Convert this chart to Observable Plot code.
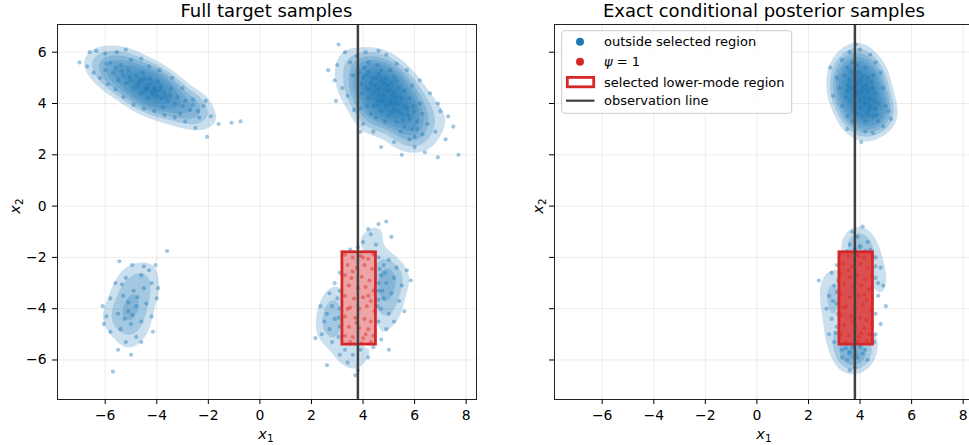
<!DOCTYPE html>
<html><head><meta charset="utf-8">
<script src="https://cdn.jsdelivr.net/npm/d3@7"></script>
<script src="https://cdn.jsdelivr.net/npm/@observablehq/plot@0.6"></script>
<style>
body{margin:0;background:#fff;}
#wrap{position:relative;width:969px;height:445px;overflow:hidden;font-family:"DejaVu Sans",sans-serif;color:#000;background:#fff;}
.panel{position:absolute;top:0;}
#overlay{position:absolute;left:0;top:0;pointer-events:none;}
</style></head><body><div id="wrap"></div><script>
// ---------- data ----------
const xTicks = [-6, -4, -2, 0, 2, 4, 6, 8];
const yTicks = [-6, -4, -2, 0, 2, 4, 6];
const xDomain = [-7.85, 8.4];
const yDomain = [-7.54, 7.08];
const observationX = [3.8];
const regionX = [3.2, 4.5];
const regionY = [-5.4, -1.8];
const titles = ["Full target samples", "Exact conditional posterior samples"];
const legendLabels = ["outside selected region", "ψ = 1", "selected lower-mode region", "observation line"];

// full target: upper-left mode
const fullModeA = [[-7.0,5.6],[-6.6,6.0],[-6.35,6.05],[-6.0,5.95],[-5.2,6.1],[-5.55,6.0],[-6.7,5.45],[-6.45,5.2],[-6.2,5.0],[-5.9,4.75],[-5.6,4.55],[-5.3,4.25],[-4.9,3.95],[-4.5,3.8],[-4.1,3.7],[-3.7,3.55],[-3.3,3.45],[-2.9,3.3],[-2.5,3.05],[-2.05,2.7],[-1.6,3.2],[-1.1,3.25],[-0.75,3.3],[-1.9,3.5],[-2.2,3.9],[-2.6,4.15],[-3.0,4.6],[-3.4,5.0],[-3.9,5.3],[-4.6,5.75],[-5.0,5.7],[-4.3,5.45],[-2.1,4.1],[-2.4,3.7],
[-5.8,5.6],[-5.6,5.4],[-5.4,5.5],[-5.7,5.2],[-5.3,5.1],[-5.1,5.3],[-5.0,4.9],[-4.8,5.1],[-4.7,4.8],[-4.5,4.95],[-4.4,4.6],[-4.3,4.75],[-4.2,4.45],[-4.1,4.6],[-4.0,4.3],[-3.9,4.5],[-3.8,4.2],[-3.7,4.4],[-3.6,4.1],[-3.5,4.3],[-3.3,4.0],[-3.2,4.25],[-3.0,3.9],[-2.9,4.1],[-2.7,3.75],[-2.6,3.95],[-4.6,4.4],[-4.9,4.6],[-5.2,4.8],[-4.35,4.2],[-3.95,4.85],[-4.55,5.2],[-3.45,4.6],[-3.1,3.6],[-5.5,4.9],[-6.0,5.3],[-5.95,5.55],[-4.25,4.95],[-3.75,3.85],[-2.35,3.45],[-4.45,4.5],[-4.15,4.35],[-3.85,4.65],[-4.75,4.65],[-5.05,5.05],[-4.65,4.9],[-4.05,4.5],[-3.65,4.25],[-5.35,5.25],[-4.35,4.6]];
// full target: upper-right mode
const fullModeB = [[3.05,6.3],[3.3,6.0],[3.0,5.5],[2.65,5.3],[2.9,4.9],[2.95,4.1],[3.2,4.6],[3.5,5.6],[3.4,4.3],[3.65,3.75],[3.6,5.1],[3.75,5.85],[4.1,6.0],[4.6,6.05],[4.9,5.9],[5.3,5.55],[5.7,5.3],[6.2,4.9],[6.6,4.4],[6.9,4.0],[7.0,3.7],[7.5,3.1],[7.2,2.6],[6.9,1.9],[6.4,2.1],[6.0,2.3],[5.5,2.0],[5.2,2.5],[4.7,2.3],[4.4,2.9],[4.0,3.2],[3.9,2.9],[7.7,2.0],[6.5,3.2],[6.8,2.9],[7.3,3.5],[4.2,5.6],[5.8,2.6],
[4.0,5.0],[4.1,4.6],[4.2,4.2],[4.2,5.2],[4.3,4.8],[4.4,4.4],[4.4,3.9],[4.5,5.0],[4.6,4.6],[4.6,4.1],[4.7,3.7],[4.7,5.3],[4.8,4.8],[4.8,4.3],[4.9,3.9],[4.9,5.0],[5.0,4.5],[5.0,3.5],[5.1,4.1],[5.1,4.8],[5.2,3.8],[5.2,4.4],[5.3,3.3],[5.3,4.9],[5.4,4.0],[5.4,4.6],[5.5,3.6],[5.5,4.2],[5.6,3.1],[5.6,4.5],[5.7,3.8],[5.8,4.2],[5.8,3.4],[5.9,3.0],[6.0,3.7],[6.1,3.3],[6.2,4.0],[6.3,2.8],[4.3,3.6],[3.95,4.4],[3.9,3.8],[4.05,5.4],[4.55,5.5],[5.05,5.3],[4.85,3.3],[5.45,2.9],[6.0,2.7],[6.3,3.6],[5.9,4.7],[4.45,4.7],[4.75,4.1],[5.15,4.3],[5.35,3.7],[5.65,3.9],[4.95,4.7],[4.35,5.0],[5.25,4.0],[4.65,4.35],[4.55,3.95],[5.05,4.0],[4.85,4.55],[5.3,4.2],[4.25,4.55],[5.55,3.35],[4.7,4.9],[5.1,3.65],[3.85,5.2],[3.95,4.75],[4.15,3.9],[4.5,3.45],[5.75,3.55],[6.1,3.0],[5.95,3.9],[4.6,5.15],[5.2,5.05],[4.1,5.1]];
// full target: lower-left mode
const fullModeC = [[-5.45,-2.15],[-4.95,-2.3],[-4.05,-2.3],[-3.6,-1.75],[-4.3,-2.5],[-4.6,-2.7],[-5.2,-2.8],[-5.6,-3.0],[-4.2,-3.0],[-4.5,-3.2],[-4.9,-3.3],[-5.3,-3.5],[-5.8,-3.6],[-6.1,-3.9],[-4.0,-3.6],[-4.4,-3.8],[-4.8,-3.9],[-5.1,-4.1],[-5.5,-4.2],[-5.95,-4.3],[-4.2,-4.3],[-4.6,-4.5],[-5.0,-4.6],[-5.4,-4.8],[-5.8,-4.9],[-4.8,-5.1],[-5.2,-5.3],[-5.5,-5.6],[-4.6,-5.3],[-5.7,-6.45],[-5.0,-5.8],[-4.15,-4.9],[-3.95,-3.2],[-5.1,-3.75],[-4.75,-3.55],[-5.25,-4.4],[-4.95,-4.25],[-5.35,-3.05],[-6.05,-4.6],[-4.5,-2.35]];
// full target: lower-right mode, outside the region
const fullModeD = [[4.0,-1.4],[4.3,-1.1],[4.6,-0.7],[4.9,-0.6],[3.8,-1.6],[4.5,-1.5],[5.1,-1.2],[3.5,-1.7],[4.2,-0.9],
[4.6,-2.0],[4.8,-2.3],[5.0,-2.1],[5.3,-2.4],[5.7,-2.5],[4.7,-2.7],[4.9,-3.0],[5.2,-2.8],[5.5,-3.1],[4.6,-3.3],[4.8,-3.6],[5.1,-3.4],[5.4,-3.7],[4.7,-4.0],[5.0,-4.2],[4.6,-4.5],[4.9,-4.8],[5.2,-4.5],[4.7,-5.2],[5.6,-4.1],[5.85,-2.9],[4.55,-3.9],[4.65,-2.45],[5.0,-5.6],[4.6,-3.0],[4.75,-3.3],[4.6,-3.65],[4.85,-2.6],
[3.1,-2.6],[2.9,-3.0],[2.7,-3.4],[3.0,-3.6],[2.8,-3.9],[3.1,-4.0],[2.6,-4.2],[2.9,-4.4],[3.1,-4.7],[2.7,-4.8],[2.4,-5.0],[2.15,-5.15],[2.8,-5.3],[3.05,-5.1],[2.5,-4.5],[2.35,-3.9],[3.1,-3.3],[3.05,-4.35],
[3.3,-5.6],[3.6,-5.8],[3.9,-5.6],[4.2,-5.9],[3.4,-6.1],[2.6,-6.2],[3.8,-6.4],[4.4,-5.5],[3.1,-5.8],[3.7,-6.6]];
// full target: inside region (psi = 1)
const fullInside = [[3.3,-1.9],[3.6,-2.0],[3.9,-1.95],[4.2,-2.05],[4.4,-1.9],[3.4,-2.3],[3.75,-2.4],[4.05,-2.3],[4.35,-2.45],[3.3,-2.7],[3.55,-2.8],[3.95,-2.75],[4.25,-2.9],[3.45,-3.1],[3.8,-3.2],[4.1,-3.15],[4.4,-3.3],[3.3,-3.5],[3.65,-3.6],[4.0,-3.55],[4.3,-3.7],[3.5,-3.95],[3.85,-4.0],[4.15,-3.9],[4.45,-4.1],[3.3,-4.3],[3.7,-4.35],[4.05,-4.4],[4.3,-4.5],[3.45,-4.7],[3.85,-4.75],[4.2,-4.8],[3.3,-5.05],[3.6,-5.1],[4.0,-5.15],[4.4,-5.05],[3.5,-5.3],[3.95,-5.35],[4.3,-5.3],[3.6,-2.55],[4.2,-3.5],[3.4,-4.0],[4.0,-2.0],[3.75,-4.55],[4.1,-5.0]];

// conditional posterior: upper mode
const postModeE = [[3.85,6.3],[3.6,6.0],[4.0,6.1],[4.4,5.9],[3.3,5.7],[2.85,5.4],[3.1,5.0],[3.2,4.6],[2.95,4.3],[3.3,3.9],[3.5,3.5],[3.7,3.3],[4.05,2.5],[4.2,2.9],[4.5,2.85],[4.9,3.1],[5.2,3.4],[5.0,3.9],[4.9,4.6],[4.8,5.2],[4.6,5.6],[3.5,3.0],[4.7,3.3],[5.1,3.7],
[3.5,5.4],[3.7,5.6],[3.9,5.5],[4.2,5.4],[3.4,5.1],[3.6,4.9],[3.8,5.1],[4.0,4.9],[4.3,5.0],[4.5,5.1],[3.5,4.5],[3.7,4.6],[3.9,4.4],[4.1,4.6],[4.3,4.5],[4.6,4.4],[3.6,4.1],[3.8,4.0],[4.0,4.1],[4.2,4.0],[4.4,3.9],[4.6,3.8],[3.9,3.6],[4.1,3.5],[4.3,3.6],[4.5,3.5],[4.4,4.2],[4.7,4.0],[4.0,3.8],[3.55,4.7],[4.15,4.25],[3.85,4.8],[4.05,4.45],[4.25,4.7],[3.75,4.3],[4.35,3.75],[3.95,5.2],[4.5,4.6],[3.65,5.25],[4.1,5.05],[4.45,4.85],[3.45,4.25],[4.55,4.1],[4.2,3.3],[3.75,3.7],[4.65,3.55]];
// conditional posterior: lower mode, outside the region
const postModeF = [[3.6,-1.5],[3.9,-1.2],[4.1,-0.8],[4.3,-1.4],[3.7,-1.0],[4.4,-1.7],[3.5,-1.75],[4.0,-1.6],[3.8,-1.65],[4.2,-1.75],
[3.1,-2.3],[2.9,-2.6],[2.4,-2.9],[3.0,-3.1],[2.8,-3.5],[3.1,-3.8],[2.7,-4.0],[2.9,-4.4],[3.1,-4.7],[2.8,-5.0],[3.0,-5.3],[3.15,-2.9],[3.15,-4.2],[2.95,-3.7],[3.05,-4.95],[3.1,-3.35],
[4.6,-2.0],[4.8,-2.4],[4.6,-2.8],[4.9,-3.1],[4.7,-3.5],[5.0,-3.9],[4.6,-4.2],[4.8,-4.6],[4.6,-5.0],[4.7,-3.0],[4.55,-5.3],[4.6,-2.35],
[3.3,-5.6],[3.6,-5.7],[3.9,-5.9],[4.2,-5.6],[3.5,-6.0],[3.8,-6.3],[4.0,-5.5],[3.3,-5.9],[4.3,-6.0],[3.6,-6.4],[3.45,-5.55],[3.7,-5.5],[4.1,-5.75]];
// conditional posterior: inside region (psi = 1)
const postInside = [[3.25,-1.85],[3.55,-1.95],[3.85,-1.9],[4.15,-2.0],[4.45,-1.85],[3.35,-2.25],[3.7,-2.35],[4.0,-2.25],[4.3,-2.4],[3.25,-2.65],[3.6,-2.75],[3.9,-2.7],[4.2,-2.85],[4.45,-2.75],[3.4,-3.05],[3.75,-3.15],[4.05,-3.1],[4.35,-3.25],[3.25,-3.45],[3.6,-3.55],[3.95,-3.5],[4.25,-3.65],[3.45,-3.9],[3.8,-3.95],[4.1,-3.85],[4.4,-4.05],[3.25,-4.25],[3.65,-4.3],[4.0,-4.35],[4.25,-4.45],[3.4,-4.65],[3.8,-4.7],[4.15,-4.75],[4.45,-4.6],[3.25,-5.0],[3.55,-5.05],[3.95,-5.1],[4.35,-5.0],[3.45,-5.3],[3.9,-5.3],[4.25,-5.25],[3.55,-2.5],[4.15,-3.45],[3.35,-3.95],[3.95,-1.95],[3.7,-4.5],[4.05,-4.95]];

// relative density levels used for the shading of the dense cores
const densityLevels = [0.18, 0.26, 0.34, 0.42, 0.5, 0.6, 0.7, 0.8, 0.9];

// ---------- build ----------
const toRows = arr => arr.map(([x, y]) => ({x, y}));
const regionRows = [{x1: regionX[0], x2: regionX[1], y1: regionY[0], y2: regionY[1]}];
const blue = "#1f77b4", red = "#d62728";
const fmt = d3.format("d");
const W = 490, H = 445, mL = 57, mR = 14, mT = 24, mB = 46, BW = 10;

function thresholdsFor(pts) {
  const sx = d3.scaleLinear(xDomain, [mL, W - mR]);
  const sy = d3.scaleLinear(yDomain, [H - mB, mT]);
  const c = d3.contourDensity().x(d => sx(d.x)).y(d => sy(d.y)).size([W, H]).bandwidth(BW).contours(pts);
  return densityLevels.map(f => f * c.max * 100);
}

function panel(bluePts, redPts, regionFill, showYLabels) {
  return Plot.plot({
    width: W, height: H,
    marginLeft: mL, marginRight: mR, marginTop: mT, marginBottom: mB,
    x: {domain: xDomain}, y: {domain: yDomain},
    style: {fontFamily: "DejaVu Sans", fontSize: "13.9px", color: "#000", background: "transparent", overflow: "visible"},
    marks: [
      Plot.gridX({ticks: xTicks, stroke: "#b0b0b0", strokeOpacity: 0.3, strokeWidth: 0.8}),
      Plot.gridY({ticks: yTicks, stroke: "#b0b0b0", strokeOpacity: 0.3, strokeWidth: 0.8}),
      Plot.density(bluePts, {x: "x", y: "y", bandwidth: BW, thresholds: thresholdsFor(bluePts), fill: blue, fillOpacity: 0.23, stroke: "none"}),
      Plot.dot(bluePts, {x: "x", y: "y", r: 2.1, fill: blue, fillOpacity: 0.42, stroke: "none"}),
      Plot.rect(regionRows, {x1: "x1", x2: "x2", y1: "y1", y2: "y2", fill: "white"}),
      Plot.rect(regionRows, {x1: "x1", x2: "x2", y1: "y1", y2: "y2", fill: red, fillOpacity: regionFill}),
      Plot.dot(redPts, {x: "x", y: "y", r: 2, fill: red, fillOpacity: 0.45, stroke: "none"}),
      Plot.rect(regionRows, {x1: "x1", x2: "x2", y1: "y1", y2: "y2", fill: "none", stroke: red, strokeWidth: 2.8}),
      Plot.ruleX(observationX, {stroke: "#404040", strokeWidth: 2.5}),
      Plot.frame({stroke: "#222", strokeWidth: 1}),
      Plot.axisX({ticks: xTicks, tickSize: 5, tickPadding: 5.5, label: null, tickFormat: fmt, fontSize: 13.9}),
      Plot.axisY({ticks: yTicks, tickSize: 5, tickPadding: 6, label: null, tickFormat: showYLabels ? fmt : () => "", fontSize: 13.9})
    ]
  });
}

const wrap = document.getElementById("wrap");
const left = panel(toRows([...fullModeA, ...fullModeB, ...fullModeC, ...fullModeD]), toRows(fullInside), 0.42, true);
left.classList.add("panel"); left.style.left = "0px";
const right = panel(toRows([...postModeE, ...postModeF]), toRows(postInside), 0.82, false);
right.classList.add("panel"); right.style.left = "497.3px";
wrap.appendChild(left); wrap.appendChild(right);

// ---------- overlay texts and legend ----------
const ns = "http://www.w3.org/2000/svg";
const ov = document.createElementNS(ns, "svg");
ov.setAttribute("id", "overlay"); ov.setAttribute("width", 969); ov.setAttribute("height", 445);
ov.setAttribute("font-family", "DejaVu Sans");
function el(tag, attrs, parent = ov) {
  const e = document.createElementNS(ns, tag);
  for (const k in attrs) e.setAttribute(k, attrs[k]);
  parent.appendChild(e); return e;
}
function txt(x, y, s, size, anchor = "start", parent = ov) {
  const t = el("text", {x, y, "font-size": size, "text-anchor": anchor, fill: "#000"}, parent);
  t.textContent = s; return t;
}
function varLabel(x, y, sub, rotate) {
  const g = el("g", {transform: `translate(${x},${y})` + (rotate ? " rotate(-90)" : "")});
  const t = el("text", {x: 0, y: 0, "font-size": 14.5, "text-anchor": "middle", fill: "#000"}, g);
  const a = el("tspan", {"font-style": "italic"}, t); a.textContent = "x";
  const b = el("tspan", {"font-size": 10.5, dy: 3.2}, t); b.textContent = sub;
}
txt(266.4, 16.7, titles[0], 18, "middle");
txt(764, 16.7, titles[1], 18, "middle");
varLabel(266, 438.5, "1", false);
varLabel(764, 438.5, "1", false);
varLabel(19.5, 206, "2", true);
varLabel(543, 206, "2", true);

// legend
el("rect", {x: 561.7, y: 30.7, width: 230, height: 82.6, rx: 3, fill: "white", "fill-opacity": 0.85, stroke: "#cccccc", "stroke-width": 1});
el("circle", {cx: 580, cy: 41.7, r: 4, fill: blue});
el("circle", {cx: 580, cy: 61.7, r: 4, fill: red});
el("rect", {x: 567.3, y: 77.4, width: 26.4, height: 9.4, fill: "white", stroke: red, "stroke-width": 2.8});
el("line", {x1: 566, x2: 594.5, y1: 100.7, y2: 100.7, stroke: "#404040", "stroke-width": 2.2});
txt(604, 46.3, legendLabels[0], 13);
{
  const t = el("text", {x: 604, y: 66.3, "font-size": 13, fill: "#000"});
  const a = el("tspan", {"font-style": "italic"}, t); a.textContent = legendLabels[1].slice(0, 1);
  const b = el("tspan", {}, t); b.textContent = legendLabels[1].slice(1);
}
txt(604, 86.6, legendLabels[2], 13);
txt(604, 105.3, legendLabels[3], 13);
wrap.appendChild(ov);
</script></body></html>
